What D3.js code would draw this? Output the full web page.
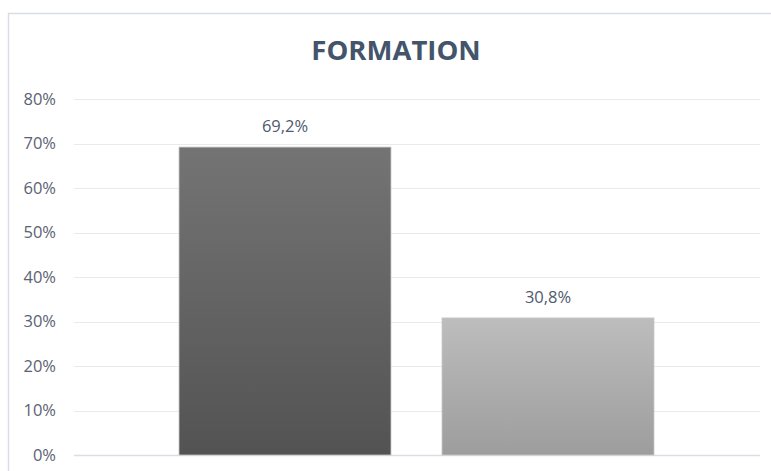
<!DOCTYPE html>
<html><head><meta charset="utf-8">
<script src="https://cdn.jsdelivr.net/npm/d3@7"></script>
<style>body{margin:0;background:#fff}</style>
</head><body>
<svg id="c" width="771" height="471"></svg>
<script>
const title = "FORMATION";
const categories = ["A", "B"];
const values = [0.692, 0.308];
const labels = ["69,2%", "30,8%"];
const yTicks = [0, 0.1, 0.2, 0.3, 0.4, 0.5, 0.6, 0.7, 0.8];
const gradTop = ["#747474", "#bdbdbd"];
const gradBottom = ["#535353", "#9d9d9d"];

const svg = d3.select("#c");
// chart border
svg.append("rect").attr("x", 8.5).attr("y", 13.5).attr("width", 800).attr("height", 500)
  .attr("fill", "none").attr("stroke", "#d9dee4").attr("stroke-width", 1.5);

const y = d3.scaleLinear().domain([0, 0.8]).range([455, 99]);
const x = d3.scaleBand().domain(categories).range([153.5, 679.5]).paddingInner(0.194).paddingOuter(0.097);

// gridlines
svg.append("g").selectAll("line").data(yTicks).join("line")
  .attr("x1", 74).attr("x2", 760)
  .attr("y1", d => Math.round(y(d)) + 0.5).attr("y2", d => Math.round(y(d)) + 0.5)
  .attr("stroke", d => d === 0 ? "#dcdde3" : "#e8eaee").attr("stroke-width", d => d === 0 ? 1.5 : 1.2);

// y axis labels
svg.append("g").selectAll("text").data(yTicks).join("text")
  .attr("x", 56).attr("y", d => y(d)).attr("dy", "0.36em").attr("text-anchor", "end")
  .attr("font-family", "Open Sans").attr("font-size", 16.5).attr("fill", "#5a6273")
  .text(d => d3.format(".0%")(d));

// gradients
const defs = svg.append("defs");
categories.forEach((c, i) => {
  const g = defs.append("linearGradient").attr("id", "g" + i).attr("x1", 0).attr("y1", 0).attr("x2", 0).attr("y2", 1);
  g.append("stop").attr("offset", "0%").attr("stop-color", gradTop[i]);
  g.append("stop").attr("offset", "100%").attr("stop-color", gradBottom[i]);
});

// bars
svg.append("g").selectAll("rect").data(values).join("rect")
  .attr("x", (d, i) => x(categories[i])).attr("width", x.bandwidth())
  .attr("y", d => y(d)).attr("height", d => y(0) - y(d))
  .attr("fill", (d, i) => `url(#g${i})`).attr("stroke", "#c8c8c8").attr("stroke-width", 0.8);

// data labels
svg.append("g").selectAll("text").data(values).join("text")
  .attr("x", (d, i) => x(categories[i]) + x.bandwidth() / 2).attr("y", d => y(d) - 21)
  .attr("dy", "0.36em").attr("text-anchor", "middle")
  .attr("font-family", "Open Sans").attr("font-size", 16.5).attr("fill", "#4f5a6e")
  .text((d, i) => labels[i]);

// title
svg.append("text").attr("x", 396).attr("y", 60).attr("text-anchor", "middle")
  .attr("font-family", "Open Sans").attr("font-weight", "bold").attr("font-size", 27.5)
  .attr("fill", "#44546a").text(title);
</script>
</body></html>
